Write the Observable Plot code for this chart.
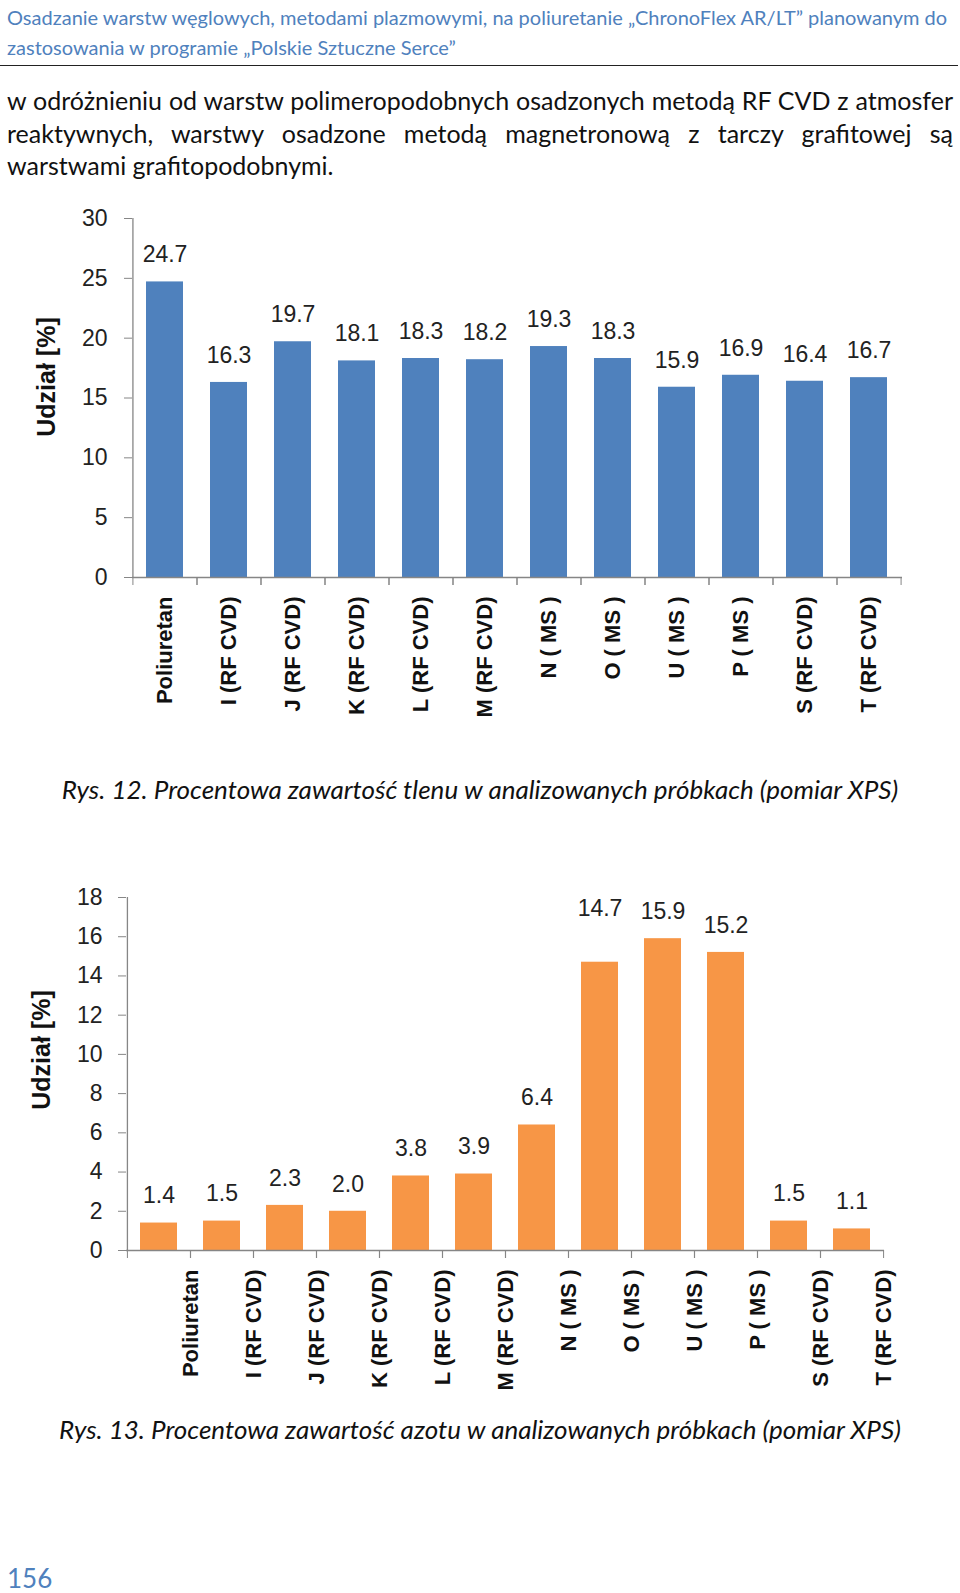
<!DOCTYPE html>
<html lang="pl">
<head>
<meta charset="utf-8">
<script src="https://cdn.jsdelivr.net/npm/d3@7"></script>
<script src="https://cdn.jsdelivr.net/npm/@observablehq/plot@0.6"></script>
<style>
  html, body { margin: 0; padding: 0; background: #fff; }
  #page { position: relative; width: 960px; height: 1593px; overflow: hidden; font-family: Lato, "Open Sans", sans-serif; color: #111; }
  .hdr { position: absolute; left: 7px; top: 3px; color: #4f81bd; font-size: 20px; line-height: 29.5px; white-space: nowrap; }
  .hrule { position: absolute; left: 0; top: 65px; width: 958px; height: 0; border-top: 1.6px solid #222; }
  .para { position: absolute; left: 7px; top: 84px; width: 946px; font-size: 25px; line-height: 32.5px; }
  .para div { white-space: nowrap; }
  .para .j { text-align: justify; text-align-last: justify; white-space: normal; }
  .cap { position: absolute; left: 0; width: 960px; text-align: center; font-style: italic; font-size: 26px; line-height: 30px; }
  .chart { position: absolute; left: 0; }
  .pg { position: absolute; left: 7px; top: 1562px; font-size: 26px; line-height: 32px; color: #4f81bd; }
</style>
</head>
<body>
<div id="page">
  <div class="hdr">Osadzanie warstw węglowych, metodami plazmowymi, na poliuretanie „ChronoFlex AR/LT” planowanym do<br>zastosowania w programie „Polskie Sztuczne Serce”</div>
  <div class="hrule"></div>
  <div class="para">
    <div class="j">w odróżnieniu od warstw polimeropodobnych osadzonych metodą RF CVD z atmosfer</div>
    <div class="j">reaktywnych, warstwy osadzone metodą magnetronową z tarczy grafitowej są</div>
    <div>warstwami grafitopodobnymi.</div>
  </div>
  <div class="chart" id="chart1" style="top:200px"></div>
  <div class="cap" style="top:774px">Rys. 12. Procentowa zawartość tlenu w analizowanych próbkach (pomiar XPS)</div>
  <div class="chart" id="chart2" style="top:870px"></div>
  <div class="cap" style="top:1414px">Rys. 13. Procentowa zawartość azotu w analizowanych próbkach (pomiar XPS)</div>
  <div class="pg">156</div>
</div>
<script>
// ---- data ----
const samples = ["Poliuretan", "I (RF CVD)", "J (RF CVD)", "K (RF CVD)", "L (RF CVD)", "M (RF CVD)",
                 "N ( MS )", "O ( MS )", "U ( MS )", "P ( MS )", "S (RF CVD)", "T (RF CVD)"];
const oxygen = [24.7, 16.3, 19.7, 18.1, 18.3, 18.2, 19.3, 18.3, 15.9, 16.9, 16.4, 16.7];
const nitrogen = [1.4, 1.5, 2.3, 2.0, 3.8, 3.9, 6.4, 14.7, 15.9, 15.2, 1.5, 1.1];
const oxygenTicks = [0, 5, 10, 15, 20, 25, 30];
const nitrogenTicks = [0, 2, 4, 6, 8, 10, 12, 14, 16, 18];
const yAxisLabel = "Udział [%]";
const nitrogenRaisedLabel = "O ( MS )"; // label drawn higher in the original

const FONT = "'Liberation Sans', Arial, sans-serif";
const AXIS = "#868686";
const INK = "#222";

function makeChart(opts) {
  const data = samples.map((name, i) => ({name, value: opts.values[i]}));
  const width = 960;
  const step = (width - opts.marginLeft - opts.marginRight) / samples.length;
  const yMax = opts.ticks[opts.ticks.length - 1];
  const normal = data.filter(d => d.name !== opts.raised);
  const raised = data.filter(d => d.name === opts.raised);
  return Plot.plot({
    width,
    height: opts.height,
    marginLeft: opts.marginLeft,
    marginRight: opts.marginRight,
    marginTop: opts.marginTop,
    marginBottom: opts.marginBottom,
    style: {fontFamily: FONT, background: "#fff", overflow: "visible"},
    x: {domain: samples, paddingInner: 0.42, paddingOuter: 0.21, axis: null},
    y: {domain: [0, yMax], axis: null},
    marks: [
      Plot.barY(data, {x: "name", y: "value", fill: opts.color}),
      // y axis
      Plot.ruleX([samples[0]], {y1: 0, y2: yMax, dx: -step / 2, stroke: AXIS, strokeWidth: 1.3}),
      Plot.axisY({ticks: opts.ticks, tickSize: 8, tickPadding: opts.yPad, stroke: AXIS, fill: INK,
                  fontSize: 23, tickFormat: d => String(d), label: null}),
      // x axis line and boundary ticks
      Plot.ruleY([0], {stroke: AXIS, strokeWidth: 1.3}),
      Plot.axisX({tickSize: 8, dx: -step / 2, stroke: AXIS, tickFormat: () => "", label: null}),
      Plot.axisX({tickSize: 8, dx: step / 2, stroke: AXIS, tickFormat: () => "", label: null}),
      // category labels
      Plot.axisX({tickSize: 0, tickPadding: 19, tickRotate: -90, dx: opts.labelShift * step,
                  fill: "#111", fontSize: 22, fontWeight: "bold", label: null}),
      // value labels
      Plot.text(normal, {x: "name", y: "value", text: d => d.value.toFixed(1), dy: -27,
                         fontSize: 23, fill: INK}),
      Plot.text(raised, {x: "name", y: "value", text: d => d.value.toFixed(1), dy: -54,
                         fontSize: 23, fill: INK}),
      // y axis title
      Plot.text([yAxisLabel], {frameAnchor: "left", text: d => d, rotate: -90, textAnchor: "middle",
                               dx: opts.titleDx, dy: opts.titleDy,
                               fontSize: 25, fontWeight: "bold", fill: "#111"})
    ]
  });
}

document.getElementById("chart1").appendChild(makeChart({
  values: oxygen, color: "#4f81bd", ticks: oxygenTicks,
  marginLeft: 132, marginRight: 58, marginTop: 18, marginBottom: 150, height: 527,
  yPad: 17, labelShift: 0, titleDx: -86, titleDy: -21, raised: null
}));

document.getElementById("chart2").appendChild(makeChart({
  values: nitrogen, color: "#f79646", ticks: nitrogenTicks,
  marginLeft: 126, marginRight: 76, marginTop: 27, marginBottom: 150, height: 530,
  yPad: 16, labelShift: 0.5, titleDx: -85, titleDy: -24, raised: nitrogenRaisedLabel
}));
</script>
</body>
</html>
